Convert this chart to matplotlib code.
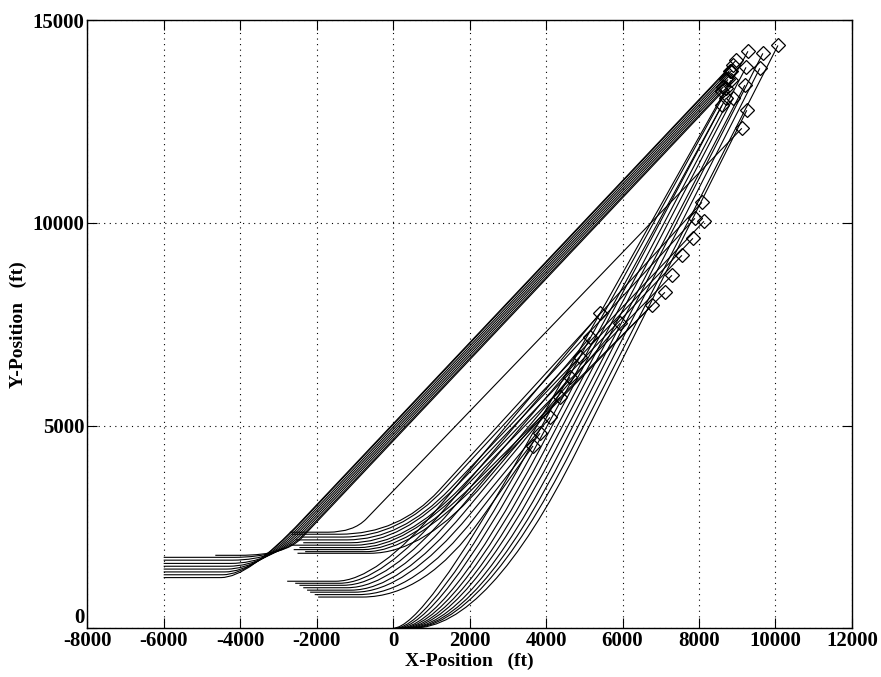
import numpy as np
import matplotlib.pyplot as plt
from matplotlib.path import Path
from matplotlib.patches import PathPatch

plt.rcParams['font.family'] = ['Liberation Serif', 'DejaVu Serif']
plt.rcParams['font.weight'] = 'bold'
plt.rcParams['axes.unicode_minus'] = False

# each trajectory: start (x0,y0), flat until xb, curve to join (xj,yj), straight to end (xe,ye)

# group A: come in from x=-6000, cross near (-3100,1900), upper bundle
a_x0 = [-6000, -6000, -6000, -6000, -6000, -6000, -6000, -6000, -4650]
a_y0 = [1250, 1320, 1390, 1460, 1530, 1600, 1680, 1750, 1800]
a_xb = [-4500, -4450, -4400, -4350, -4300, -4250, -4200, -4150, -4000]
a_xj = [-2400, -2400, -2400, -2400, -2400, -2400, -2400, -2400, -2400]
a_yj = [2644, 2620, 2560, 2500, 2440, 2380, 2320, 2260, 2220]
a_xe = [8966, 8880, 8800, 8850, 8700, 8760, 8640, 8600, 8700]
a_ye = [14010, 13900, 13760, 13750, 13540, 13540, 13360, 13260, 13320]

# group B: flat at y~1850-2370 starting near x=-2500, ends on the upper diamond chain
b_x0 = [-2500, -2300, -2600, -2450, -2700, -2350, -2550, -2400, -2650, -2700]
b_y0 = [1850, 1890, 1940, 1990, 2050, 2110, 2180, 2250, 2320, 2370]
b_xb = [-600, -700, -800, -900, -1000, -1100, -1200, -1300, -1400, -1700]
b_xj = [2400, 2250, 2100, 1950, 1800, 1650, 1500, 1350, 1200, -700]
b_yj = [3600, 3600, 3550, 3550, 3500, 3500, 3450, 3450, 3400, 2700]
b_xe = [5934, 6770, 7110, 7293, 7554, 7842, 8130, 7894, 8077, 9120]
b_ye = [7524, 7968, 8289, 8709, 9202, 9621, 10040, 10115, 10509, 12335]

# group C: flat at y~770-1160 starting near x=-2000, ends on the lower diamond chain
c_x0 = [-1960, -2050, -2170, -2250, -2350, -2450, -2560, -2770]
c_y0 = [770, 830, 890, 940, 1000, 1060, 1110, 1160]
c_xb = [-800, -900, -1000, -1100, -1200, -1300, -1400, -1500]
c_xj = [2300, 2150, 2000, 1850, 1700, 1550, 1400, 1250]
c_yj = [2700, 2750, 2800, 2850, 2900, 2950, 3000, 3050]
c_xe = [3660, 3843, 4104, 4366, 4627, 4888, 5150, 5411]
c_ye = [4500, 4811, 5205, 5699, 6192, 6686, 7179, 7770]

# group D: start on the ground near the origin, steep fan to the upper right
d_x0 = [0, 50, 100, 150, 200, 250, 300, 350, 400, 450, 500]
d_y0 = [0, 0, 0, 0, 0, 0, 0, 0, 0, 0, 0]
d_xj = [3400, 3540, 3680, 3820, 3960, 4100, 4240, 4380, 4520, 4660, 4810]
d_yj = [4390, 4390, 4390, 4390, 4390, 4390, 4390, 4390, 4390, 4390, 4390]
d_xe = [8835, 9280, 8600, 8700, 9230, 8890, 9200, 9670, 9590, 10065, 9250]
d_ye = [13520, 14235, 12900, 13075, 13840, 13075, 13400, 14185, 13815, 14380, 12780]


def draw_group(ax, x0, y0, xb, xj, yj, xe, ye):
    for i in range(len(x0)):
        slope = (ye[i] - yj[i]) / (xe[i] - xj[i])
        xc = xj[i] - (yj[i] - y0[i]) / slope
        verts = [(x0[i], y0[i]), (xb[i], y0[i]), (xc, y0[i]),
                 (xj[i], yj[i]), (xe[i], ye[i])]
        codes = [Path.MOVETO, Path.LINETO, Path.CURVE3, Path.CURVE3, Path.LINETO]
        ax.add_patch(PathPatch(Path(verts, codes), fill=False,
                               edgecolor='black', linewidth=0.8))
    ax.plot(xe, ye, 'D', mfc='none', mec='black', ms=7, mew=0.9, ls='none')


fig = plt.figure(figsize=(8.81, 6.77), dpi=100)
ax = fig.add_axes([0.099, 0.072, 0.868, 0.898])

draw_group(ax, a_x0, a_y0, a_xb, a_xj, a_yj, a_xe, a_ye)
draw_group(ax, b_x0, b_y0, b_xb, b_xj, b_yj, b_xe, b_ye)
draw_group(ax, c_x0, c_y0, c_xb, c_xj, c_yj, c_xe, c_ye)
draw_group(ax, d_x0, d_y0, d_x0, d_xj, d_yj, d_xe, d_ye)

ax.set_xlim(-8000, 12000)
ax.set_ylim(0, 15000)
ax.set_xticks(np.arange(-8000, 12001, 2000))
ax.set_yticks([0, 5000, 10000, 15000])
ax.tick_params(direction='in', length=7, labelsize=15, top=True, right=True,
               labeltop=False, labelright=False, pad=2)
for lab in ax.get_xticklabels() + ax.get_yticklabels():
    lab.set_fontweight('bold')
ax.get_yticklabels()[0].set_verticalalignment('bottom')
ax.grid(True, color='black', linestyle=(0, (1, 4)), linewidth=0.8)
for s in ax.spines.values():
    s.set_linewidth(1.0)

ax.set_xlabel('X-Position   (ft)', fontsize=14, fontweight='bold', labelpad=1)
ax.set_ylabel('Y-Position   (ft)', fontsize=14, fontweight='bold', labelpad=4)

fig.savefig('out.png', dpi=100)
